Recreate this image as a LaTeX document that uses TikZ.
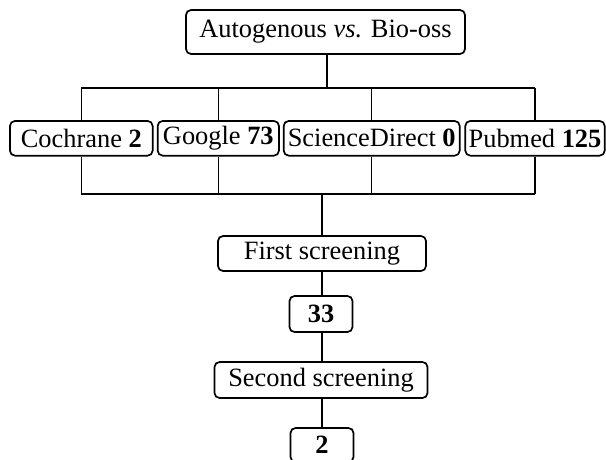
\documentclass[tikz,border=0pt]{standalone}
\usepackage{fontspec}
\setmainfont{Liberation Serif}
\begin{document}
\begin{tikzpicture}[x=1pt,y=-1pt,
  box/.style={draw,rounded corners=5pt,line width=1.7pt,inner sep=0pt,align=center,font=\fontsize{26.4}{30}\selectfont},
  conn/.style={line width=1.2pt}]
\clip (0,0) rectangle (606,459);
\path[use as bounding box] (0,0) rectangle (606,459);
\node[box,minimum width=279pt,minimum height=44pt] (top) at (325.5,32) {Autogenous \textit{vs.} Bio-oss};
\node[box,minimum width=142.7pt,minimum height=34.7pt] (c) at (81.3,138.3) {Cochrane \textbf{2}};
\node[box,minimum width=121.3pt,minimum height=34.7pt] (g) at (218.3,138.3) {Google \textbf{73}};
\node[box,minimum width=176pt,minimum height=34.7pt] (s) at (371.7,138.3) {ScienceDirect \textbf{0}};
\node[box,minimum width=139.4pt,minimum height=34.7pt] (p) at (535,138.3) {Pubmed \textbf{125}};
\node[box,minimum width=208pt,minimum height=35pt] (fs) at (322,253.5) {First screening};
\node[box,minimum width=63pt,minimum height=36pt] (n33) at (321,314) {\textbf{33}};
\node[box,minimum width=213pt,minimum height=36pt] (ss) at (321,380) {Second screening};
\node[box,minimum width=63pt,minimum height=34pt] (n2) at (322,445) {\textbf{2}};
\coordinate (t1) at (327,88);
\coordinate (b1) at (322,194);
\draw[conn] (top.south -| t1) -- (t1);
\draw[conn] (c.north |- t1) -- (p.north |- t1);
\foreach \n in {c,g,s,p}{
  \draw[conn] (\n.north) -- (\n.north |- t1);
  \draw[conn] (\n.south) -- (\n.south |- b1);
}
\draw[conn] (c.south |- b1) -- (p.south |- b1);
\draw[conn] (b1) -- (fs.north -| b1);
\draw[conn] (fs.south -| b1) -- (n33.north -| b1);
\draw[conn] (n33.south -| b1) -- (ss.north -| b1);
\draw[conn] (ss.south -| b1) -- (n2.north -| b1);
\end{tikzpicture}
\end{document}
